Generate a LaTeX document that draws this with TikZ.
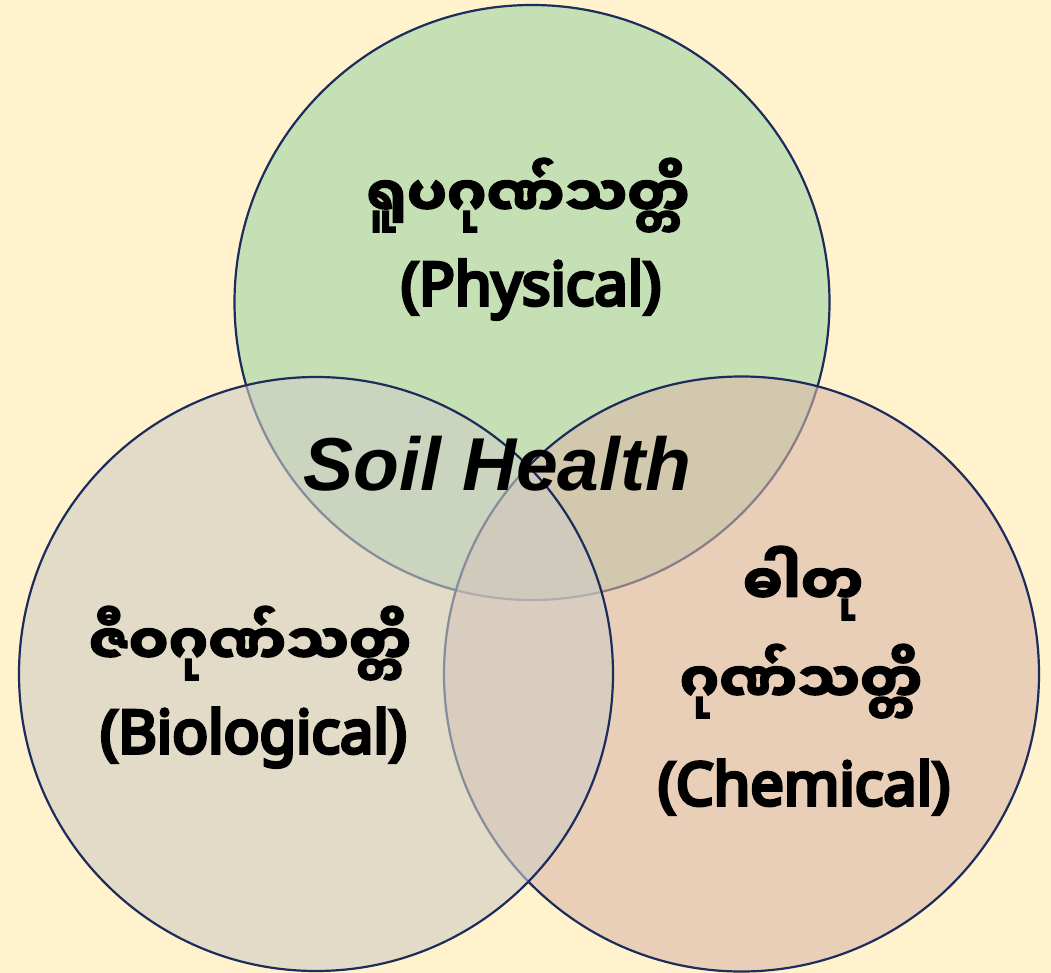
\documentclass[tikz,border=0pt]{standalone}
\usepackage{fontspec}
\setmainfont{Noto Sans}
\newfontfamily\enfont[FakeBold=6]{Noto Sans}
\newfontfamily\mmfont[Script=Myanmar, BoldFeatures={FakeBold=2.5}]{Noto Sans Myanmar UI}
\newfontfamily\arialfont{Liberation Sans}
\definecolor{bgyellow}{RGB}{255,242,204}
\definecolor{topgreen}{RGB}{197,224,180}
\definecolor{rightpeach}{RGB}{219,183,171}
\definecolor{leftgrey}{RGB}{207,204,197}
\definecolor{navyline}{RGB}{28,44,92}
\tikzset{
  ring/.style={draw=navyline, line width=2.2pt},
  mmtext/.style={anchor=base, inner sep=0pt, font=\mmfont\bfseries\fontsize{56}{60}\selectfont},
  entext/.style={anchor=base, inner sep=0pt, font=\enfont\fontsize{59.5}{64}\selectfont},
  titletext/.style={anchor=base, inner sep=0pt, font=\arialfont\bfseries\itshape\fontsize{75}{80}\selectfont}
}
\begin{document}
\begin{tikzpicture}[x=1pt,y=-1pt]
\fill[bgyellow] (0,0) rectangle (1051,973);
\useasboundingbox (0,0) rectangle (1051,973);
% circles: top, right, left
\path[ring, fill=topgreen] (532,302.5) circle[radius=297.5];
\path[ring, fill=rightpeach, fill opacity=0.58] (741.5,674) circle[radius=297.5];
\path[ring, fill=leftgrey, fill opacity=0.6] (316,674) circle[radius=297];
% texts
\node[mmtext] (phymm) at (528,217) {ရူပဂုဏ်သတ္တိ};
\node[entext] (phyen) at (531,305) {(Physical)};
\node[mmtext] (biomm) at (250,665) {ဇီဝဂုဏ်သတ္တိ};
\node[entext] (bioen) at (253.5,753) {(Biological)};
\node[mmtext] (chemmmA) at (803,605) {ဓါတု};
\node[mmtext] (chemmmB) at (801,703) {ဂုဏ်သတ္တိ};
\node[entext] (chemen) at (804,805) {(Chemical)};
\node[titletext] (title) at (497.5,490) {Soil Health};
\end{tikzpicture}
\end{document}
